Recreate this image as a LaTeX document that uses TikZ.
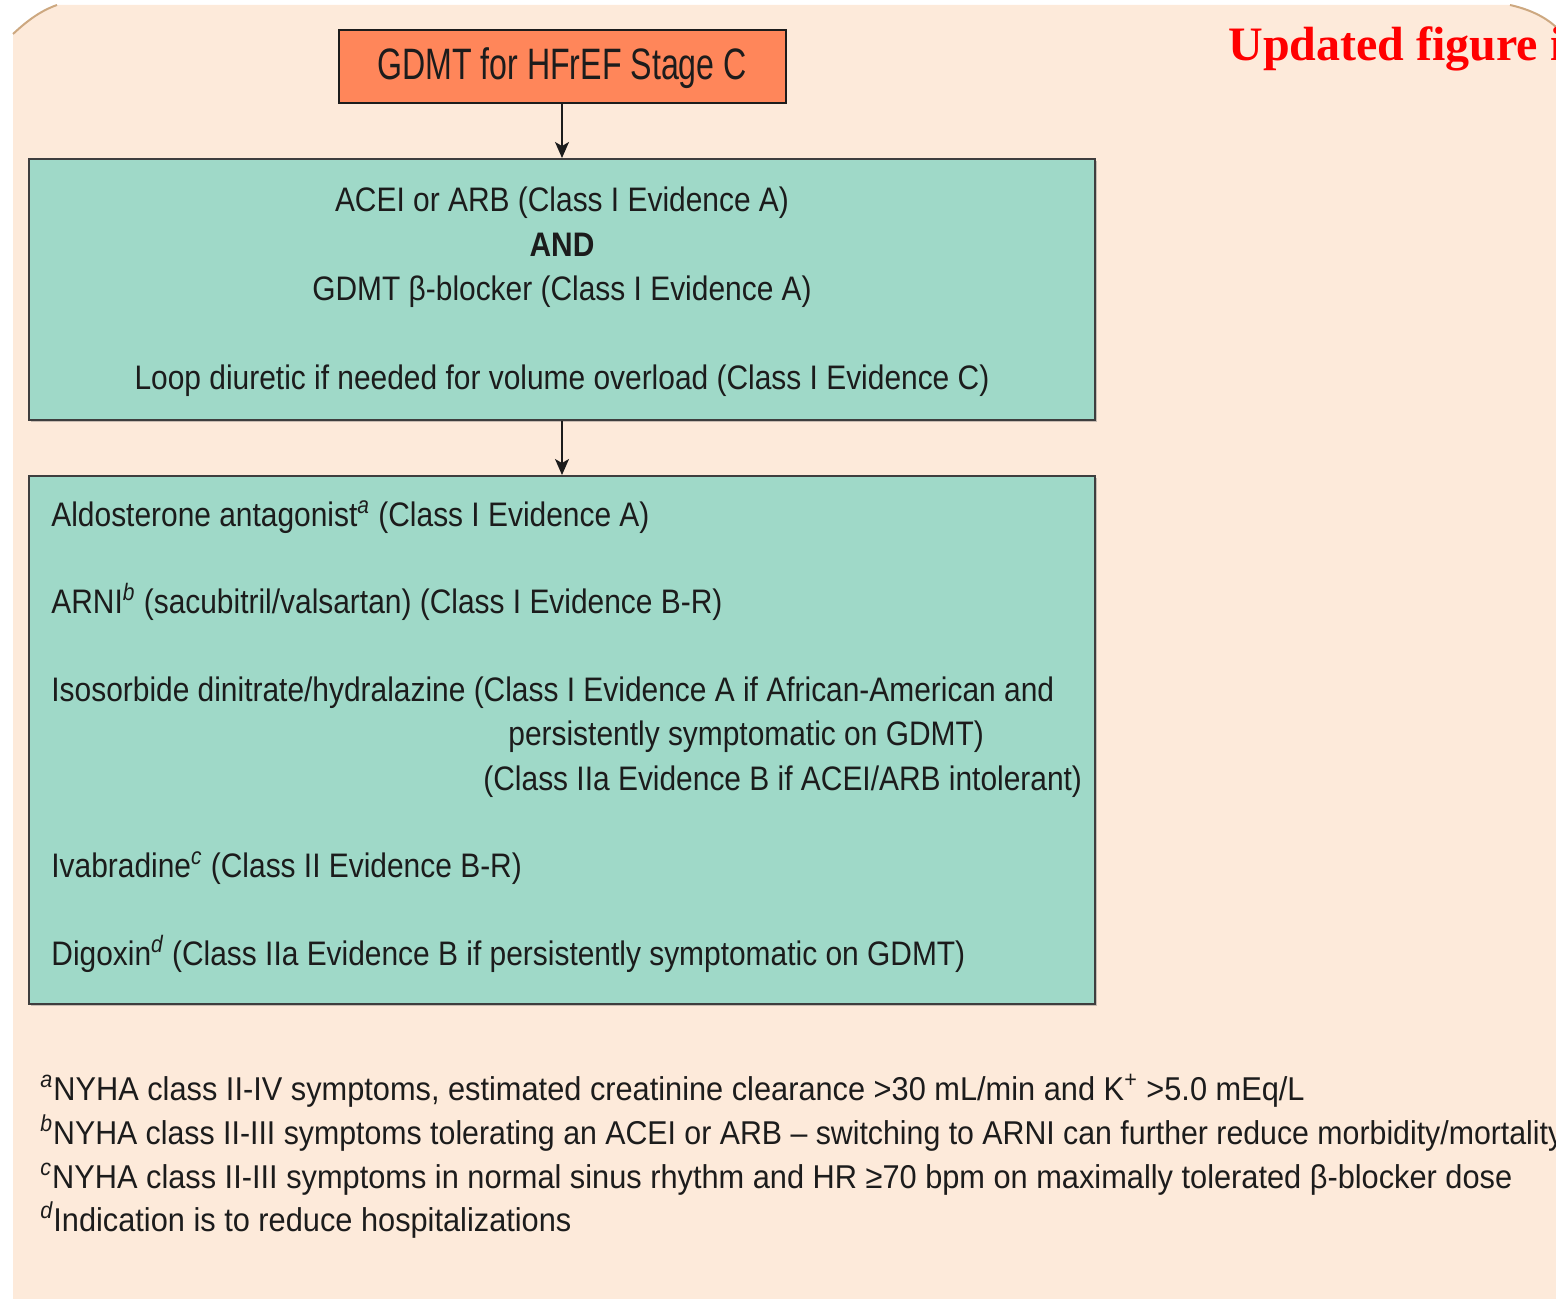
\documentclass[tikz,border=0pt]{standalone}
\usepackage{fontspec}
\setmainfont{Liberation Sans}[FakeStretch=0.88]
\newfontfamily\headfont{Liberation Sans}[FakeStretch=0.73]
\newfontfamily\notefont{Liberation Sans}[FakeStretch=0.932]
\newfontfamily\notefontnarrow{Liberation Sans}[FakeStretch=0.918]
\newfontfamily\stampfont{Liberation Serif}
\usetikzlibrary{arrows.meta,shadows}

\definecolor{peach}{RGB}{253,234,218}
\definecolor{rim}{RGB}{205,168,128}
\definecolor{coral}{RGB}{255,134,90}
\definecolor{mint}{RGB}{159,217,200}
\definecolor{ink}{RGB}{28,28,28}
\definecolor{stampred}{RGB}{255,0,0}

\tikzset{
  panel/.style={draw=ink!85, line width=1pt, fill=mint,
    drop shadow={shadow xshift=1pt, shadow yshift=-1pt, opacity=0.35, fill=black!60}},
  headbox/.style={draw=ink, line width=1pt, fill=coral,
    minimum width=223.5pt, minimum height=36.5pt},
  headtext/.style={font=\headfont\fontsize{22}{26}\selectfont, text=ink, inner sep=0pt, anchor=base},
  body/.style={font=\fontsize{17}{20}\selectfont, text=ink, inner sep=0pt},
  note/.style={font=\notefont\fontsize{16.5}{20}\selectfont, text=ink, inner sep=0pt, anchor=base west},
  arr/.style={draw=ink, line width=0.8pt, -{Stealth[length=8pt, width=7pt, inset=2pt]}}
}
\newcommand{\fnm}[1]{\textsuperscript{\itshape #1}}

\begin{document}
\begin{tikzpicture}[x=0.5pt, y=-0.5pt]
\useasboundingbox (0,0) rectangle (1556,1299);
\clip (0,0) rectangle (1556,1299);

% page background with trimmed top corners
\fill[peach] (13,1299) -- (13,34) .. controls (27,21) and (40,11) .. (57,5)
  -- (1510,5) .. controls (1528,9) and (1544,16) .. (1556,27) -- (1556,1299) -- cycle;
\draw[rim, line width=1pt] (13,34) .. controls (27,21) and (40,11) .. (57,5);
\draw[rim, line width=1pt] (1510,5) .. controls (1528,9) and (1544,16) .. (1556,27);

% stamp in the corner
\node[anchor=base west, inner sep=0pt, text=stampred,
  font=\stampfont\bfseries\fontsize{24}{28}\selectfont] (stamp) at (1228,61) {Updated figure i};

% flow boxes
\node[headbox] (head) at (562,66.5) {};
\node[headtext] (headlabel) at (562,80) {GDMT for HFrEF Stage C};
\node[panel, minimum width=533pt, minimum height=130.5pt] (first) at (562,289.5) {};
\node[panel, minimum width=533pt, minimum height=264pt] (second) at (562,740) {};

\draw[arr] (head.south) -- (first.north);
\draw[arr] (first.south) -- (second.north);

% first-line therapy
\node[body, anchor=base] (acei) at (562,212) {ACEI or ARB (Class I Evidence A)};
\node[body, anchor=base, font=\bfseries\fontsize{17}{20}\selectfont] (and) at (562,257) {AND};
\node[body, anchor=base] (beta) at (562,301) {GDMT β-blocker (Class I Evidence A)};
\node[body, anchor=base] (loop) at (562,389) {Loop diuretic if needed for volume overload (Class I Evidence C)};

% add-on therapy
\node[body, anchor=base west] (aldo) at (51,526) {Aldosterone antagonist\fnm{a} (Class I Evidence A)};
\node[body, anchor=base west] (arni) at (51,613) {ARNI\fnm{b} (sacubitril/valsartan) (Class I Evidence B-R)};
\node[body, anchor=base west] (isdn) at (51,701) {Isosorbide dinitrate/hydralazine (Class I Evidence A if African-American and};
\node[body, anchor=base west] (isdn2) at (508,745) {persistently symptomatic on GDMT)};
\node[body, anchor=base west] (isdn3) at (483,790) {(Class IIa Evidence B if ACEI/ARB intolerant)};
\node[body, anchor=base west] (ivab) at (51,877) {Ivabradine\fnm{c} (Class II Evidence B-R)};
\node[body, anchor=base west] (digo) at (51,965) {Digoxin\fnm{d} (Class IIa Evidence B if persistently symptomatic on GDMT)};

% footnotes
\node[note] (fa) at (40,1100) {\fnm{a}NYHA class II-IV symptoms, estimated creatinine clearance >30 mL/min and K\textsuperscript{+} >5.0 mEq/L};
\node[note, font=\notefontnarrow\fontsize{16.5}{20}\selectfont] (fb) at (40,1144) {\fnm{b}NYHA class II-III symptoms tolerating an ACEI or ARB – switching to ARNI can further reduce morbidity/mortality};
\node[note] (fc) at (40,1188) {\fnm{c}NYHA class II-III symptoms in normal sinus rhythm and HR ≥70 bpm on maximally tolerated β-blocker dose};
\node[note] (fd) at (40,1231) {\fnm{d}Indication is to reduce hospitalizations};
\end{tikzpicture}
\end{document}
